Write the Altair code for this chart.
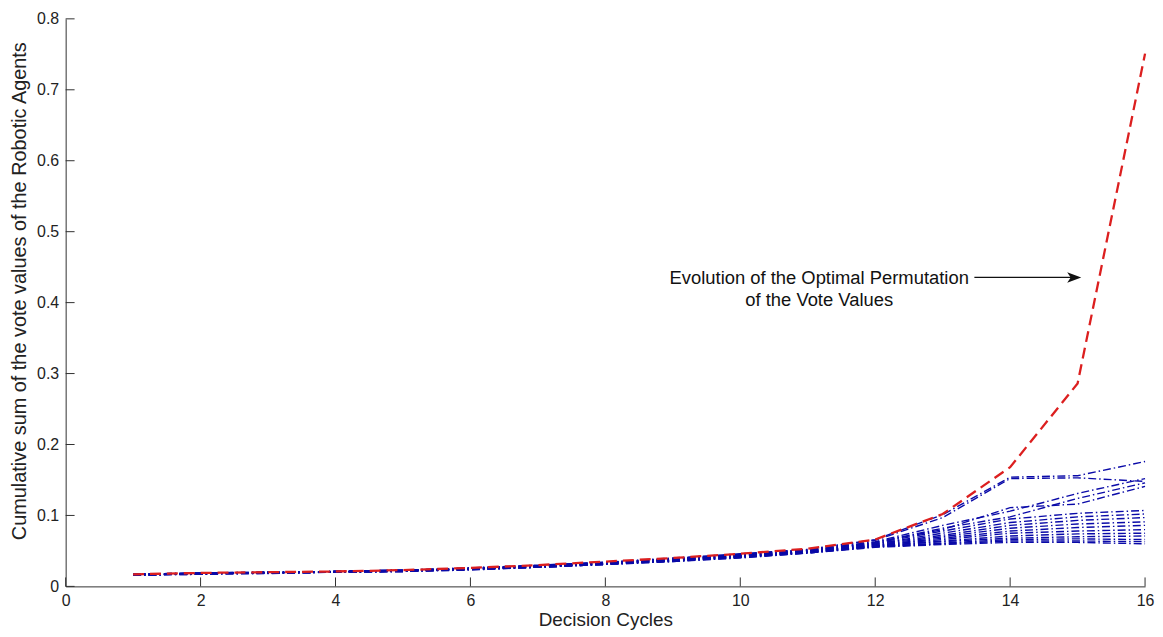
import altair as alt
import pandas as pd

# ---------------- data ----------------
x_cycles = list(range(1, 17))

red_optimal = [0.017, 0.019, 0.020, 0.021, 0.023, 0.026, 0.030, 0.035,
               0.040, 0.046, 0.053, 0.066, 0.102, 0.168, 0.286, 0.751]

blue_01 = [0.017, 0.019, 0.020, 0.021, 0.023, 0.026, 0.030, 0.034, 0.040, 0.046, 0.052, 0.066, 0.101, 0.154, 0.156, 0.176]
blue_02 = [0.017, 0.019, 0.020, 0.021, 0.023, 0.026, 0.029, 0.034, 0.039, 0.045, 0.052, 0.065, 0.097, 0.152, 0.153, 0.148]
blue_03 = [0.016, 0.018, 0.019, 0.021, 0.022, 0.025, 0.029, 0.034, 0.039, 0.045, 0.051, 0.063, 0.086, 0.106, 0.131, 0.152]
blue_04 = [0.017, 0.018, 0.020, 0.020, 0.023, 0.025, 0.029, 0.033, 0.039, 0.044, 0.051, 0.062, 0.082, 0.098, 0.124, 0.146]
blue_05 = [0.016, 0.019, 0.019, 0.021, 0.022, 0.026, 0.029, 0.033, 0.038, 0.044, 0.050, 0.062, 0.080, 0.111, 0.116, 0.141]
blue_06 = [0.017, 0.018, 0.020, 0.021, 0.022, 0.025, 0.028, 0.033, 0.038, 0.044, 0.050, 0.061, 0.078, 0.095, 0.103, 0.107]
blue_07 = [0.016, 0.018, 0.019, 0.020, 0.022, 0.025, 0.028, 0.033, 0.038, 0.043, 0.050, 0.060, 0.075, 0.090, 0.098, 0.102]
blue_08 = [0.017, 0.019, 0.019, 0.021, 0.023, 0.025, 0.029, 0.033, 0.038, 0.043, 0.049, 0.060, 0.072, 0.086, 0.093, 0.097]
blue_09 = [0.016, 0.018, 0.020, 0.020, 0.022, 0.025, 0.028, 0.032, 0.037, 0.043, 0.049, 0.059, 0.070, 0.082, 0.088, 0.091]
blue_10 = [0.017, 0.018, 0.019, 0.021, 0.022, 0.024, 0.028, 0.032, 0.037, 0.042, 0.049, 0.058, 0.068, 0.078, 0.083, 0.086]
blue_11 = [0.016, 0.018, 0.019, 0.020, 0.022, 0.024, 0.028, 0.032, 0.037, 0.042, 0.048, 0.058, 0.066, 0.075, 0.078, 0.080]
blue_12 = [0.017, 0.018, 0.019, 0.020, 0.022, 0.024, 0.027, 0.032, 0.036, 0.042, 0.048, 0.057, 0.064, 0.071, 0.074, 0.075]
blue_13 = [0.016, 0.018, 0.019, 0.020, 0.021, 0.024, 0.027, 0.031, 0.036, 0.041, 0.048, 0.057, 0.063, 0.068, 0.070, 0.071]
blue_14 = [0.016, 0.018, 0.019, 0.020, 0.021, 0.024, 0.027, 0.031, 0.036, 0.041, 0.047, 0.056, 0.061, 0.066, 0.067, 0.066]
blue_15 = [0.016, 0.017, 0.019, 0.020, 0.021, 0.024, 0.027, 0.031, 0.035, 0.041, 0.047, 0.056, 0.060, 0.064, 0.064, 0.063]
blue_16 = [0.016, 0.017, 0.018, 0.020, 0.021, 0.023, 0.027, 0.031, 0.035, 0.040, 0.047, 0.055, 0.059, 0.062, 0.062, 0.060]

blue_all = [blue_01, blue_02, blue_03, blue_04, blue_05, blue_06, blue_07, blue_08,
            blue_09, blue_10, blue_11, blue_12, blue_13, blue_14, blue_15, blue_16]

x_ticks = [0, 2, 4, 6, 8, 10, 12, 14, 16]
y_ticks = [0, 0.1, 0.2, 0.3, 0.4, 0.5, 0.6, 0.7, 0.8]

annotation_text = "Evolution of the Optimal Permutation\nof the Vote Values"
annotation_pos = (11.17, 0.434)
arrow_from = (13.47, 0.4355)
arrow_to = (14.95, 0.4355)

# ---------------- layout ----------------
W, H = 1086, 571
FONT = "Liberation Sans"

xs = alt.Scale(domain=[0, 16], nice=False, zero=False)
ys = alt.Scale(domain=[0, 0.8], nice=False, zero=False)

blue_rows = []
for i, s in enumerate(blue_all):
    for x, v in zip(x_cycles, s):
        blue_rows.append({"x": x, "v": v, "s": f"b{i:02d}"})
blue_df = pd.DataFrame(blue_rows)
red_df = pd.DataFrame({"x": x_cycles, "v": red_optimal})

base_x = alt.X("x:Q", scale=xs, title="Decision Cycles",
               axis=alt.Axis(values=x_ticks, format="~g", ticks=False, grid=False, domain=True,
                             domainColor="#303030", domainWidth=1,
                             labelFont=FONT, labelFontSize=16, labelColor="#222222",
                             labelPadding=6, labelFlush=False,
                             titleFont=FONT, titleFontSize=19, titleFontWeight="normal",
                             titleColor="#222222", titleX=W / 2, titleY=33,
                             titleBaseline="middle", titleAlign="center"))
base_y = alt.Y("v:Q", scale=ys, title="Cumulative sum of the vote values of the Robotic Agents",
               axis=alt.Axis(values=y_ticks, format="~g", ticks=False, grid=False, domain=True,
                             domainColor="#303030", domainWidth=1,
                             labelFont=FONT, labelFontSize=16, labelColor="#222222",
                             labelPadding=7, labelFlush=False,
                             titleFont=FONT, titleFontSize=20, titleFontWeight="normal",
                             titleColor="#222222", titleX=-46, titleY=H / 2 - 12,
                             titleAngle=-90, titleBaseline="middle", titleAlign="center"))

blue = alt.Chart(blue_df).mark_line(
    color="#0a0aa8", strokeWidth=1.4, strokeDash=[8, 3, 1.5, 3]
).encode(x=base_x, y=base_y, detail="s:N")

red = alt.Chart(red_df).mark_line(
    color="#dc1f1f", strokeWidth=2.3, strokeDash=[11, 6]
).encode(x="x:Q", y="v:Q")

xt_df = pd.DataFrame({"x": x_ticks})
xtick = alt.Chart(xt_df).mark_rule(color="#303030", strokeWidth=1).encode(
    x="x:Q", y=alt.value(H), y2=alt.value(H - 9))

yt_df = pd.DataFrame({"v": y_ticks})
ytick = alt.Chart(yt_df).mark_rule(color="#303030", strokeWidth=1).encode(
    y="v:Q", x=alt.value(0), x2=alt.value(9))

ann_df = pd.DataFrame({"x": [annotation_pos[0]], "v": [annotation_pos[1]], "t": [annotation_text]})
ann = alt.Chart(ann_df).mark_text(
    font=FONT, fontSize=18.5, color="#111111", align="center", baseline="middle",
    lineBreak="\n", lineHeight=22
).encode(x="x:Q", y="v:Q", text="t:N")

arr_df = pd.DataFrame({"x": [arrow_from[0]], "x2": [arrow_to[0]], "v": [arrow_from[1]]})
arrow_line = alt.Chart(arr_df).mark_rule(color="#111111", strokeWidth=1.3).encode(
    x="x:Q", x2="x2:Q", y="v:Q")

head_df = pd.DataFrame({"x": [arrow_to[0]], "v": [arrow_to[1]]})
arrow_head = alt.Chart(head_df).mark_point(
    shape="M-1,-0.75 L1,0 L-1,0.75 L-0.5,0 Z", filled=True, color="#111111",
    size=200, opacity=1
).encode(x="x:Q", y="v:Q")

chart = alt.layer(blue, red, xtick, ytick, arrow_line, arrow_head, ann).properties(
    width=W, height=H,
    autosize=alt.AutoSizeParams(type="none"),
    padding={"left": 58, "top": 9, "right": 10, "bottom": 48},
    background="white",
).configure_view(stroke=None)

chart.save("out.html", embed_options={"renderer": "svg", "actions": False})
